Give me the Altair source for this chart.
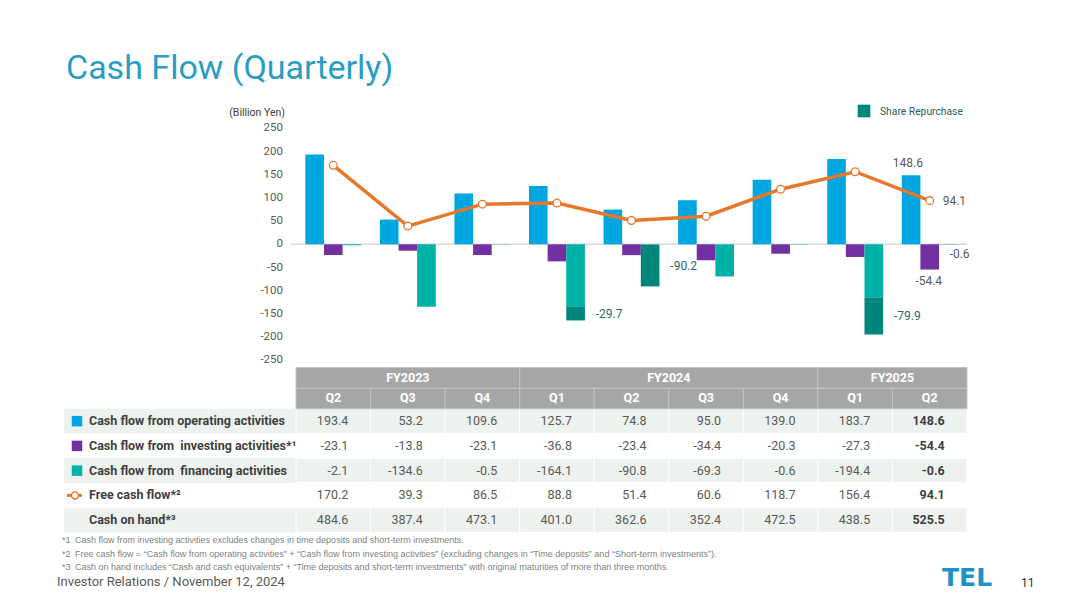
import altair as alt
import pandas as pd

# ---------------- data ----------------
quarters = ["FY2023 Q2", "FY2023 Q3", "FY2023 Q4", "FY2024 Q1", "FY2024 Q2",
            "FY2024 Q3", "FY2024 Q4", "FY2025 Q1", "FY2025 Q2"]
quarter_labels = ["Q2", "Q3", "Q4", "Q1", "Q2", "Q3", "Q4", "Q1", "Q2"]
fiscal_years = ["FY2023", "FY2024", "FY2025"]
quarters_per_fy = [3, 4, 2]
operating = [193.4, 53.2, 109.6, 125.7, 74.8, 95.0, 139.0, 183.7, 148.6]
investing = [-23.1, -13.8, -23.1, -36.8, -23.4, -34.4, -20.3, -27.3, -54.4]
financing = [-2.1, -134.6, -0.5, -164.1, -90.8, -69.3, -0.6, -194.4, -0.6]
share_repurchase = [0.0, 0.0, 0.0, -29.7, -90.2, 0.0, 0.0, -79.9, 0.0]
free_cash_flow = [170.2, 39.3, 86.5, 88.8, 51.4, 60.6, 118.7, 156.4, 94.1]
cash_on_hand = [484.6, 387.4, 473.1, 401.0, 362.6, 352.4, 472.5, 438.5, 525.5]
row_keys = ["op", "inv", "fin", "fcf", "cash"]
row_labels = ["Cash flow from operating activities",
              "Cash flow from\u00a0\u00a0investing activities*\u00b9",
              "Cash flow from\u00a0\u00a0financing activities",
              "Free cash flow*\u00b2",
              "Cash on hand*\u00b3"]
y_ticks = [250, 200, 150, 100, 50, 0, -50, -100, -150, -200, -250]
footnote_marks = ["*1", "*2", "*3"]
footnotes = [
    "Cash flow from investing activities excludes changes in time deposits and short-term investments.",
    "Free cash flow = \u201cCash flow from operating activities\u201d + \u201cCash flow from investing activities\u201d (excluding changes in \u201cTime deposits\u201d and \u201cShort-term investments\u201d).",
    "Cash on hand includes \u201cCash and cash equivalents\u201d + \u201cTime deposits and short-term investments\u201d with original maturities of more than three months.",
]

# ---------------- colours / layout ----------------
C_OP, C_INV, C_FIN, C_REP, C_FCF = "#00a6df", "#7330a2", "#00b1a8", "#00867b", "#e5782b"
FONT = "Roboto"
COL_RANGE = [288, 959]
Y_RANGE = [352.3, 120.3]
HEAD_RANGE = [359.5, 400.8]
ROW_RANGE = [400.8, 524.5]

x_scale = alt.Scale(domain=quarters, range=COL_RANGE, paddingInner=0, paddingOuter=0)
xo_scale = alt.Scale(domain=["op", "inv", "fin"], paddingInner=0, paddingOuter=0.5)
y_scale = alt.Scale(domain=[-250, 250], range=Y_RANGE, nice=False, zero=False)
head_scale = alt.Scale(domain=["fy", "q"], range=HEAD_RANGE, paddingInner=0, paddingOuter=0)
row_scale = alt.Scale(domain=row_keys, range=ROW_RANGE, paddingInner=0, paddingOuter=0)
fy_scale = alt.Scale(domain=[0, len(quarters)], range=COL_RANGE, nice=False, zero=False)
series_scale = alt.Scale(domain=["op", "inv", "fin", "rep"], range=[C_OP, C_INV, C_FIN, C_REP])
row_bg_scale = alt.Scale(domain=row_keys, range=["#eef2ef", "#ffffff", "#eef2ef", "#ffffff", "#eef2ef"])

X = alt.X("quarter:N", scale=x_scale, axis=None)
XO = alt.XOffset("slot:N", scale=xo_scale)
ROWY = alt.Y("row:N", scale=row_scale, axis=None)

# ---------------- tables ----------------
bars = []
for i, q in enumerate(quarters):
    bars.append(dict(quarter=q, slot="op", series="op", y0=0.0, y1=operating[i]))
    bars.append(dict(quarter=q, slot="inv", series="inv", y0=0.0, y1=investing[i]))
    light_end = financing[i] - share_repurchase[i]
    bars.append(dict(quarter=q, slot="fin", series="fin", y0=0.0, y1=light_end))
    if share_repurchase[i] != 0:
        bars.append(dict(quarter=q, slot="fin", series="rep", y0=light_end, y1=financing[i]))
bars_df = pd.DataFrame(bars)

fcf_df = pd.DataFrame({"quarter": quarters, "v": free_cash_flow})

rep_df = pd.DataFrame([
    dict(quarter=q, slot="fin", mid=financing[i] - share_repurchase[i] / 2,
         label=f"{share_repurchase[i]:.1f}")
    for i, q in enumerate(quarters) if share_repurchase[i] != 0
])
last = len(quarters) - 1
last_q = quarters[last]

series_values = [operating, investing, financing, free_cash_flow, cash_on_hand]
cells = []
for r, key in enumerate(row_keys):
    for i, q in enumerate(quarters):
        cells.append(dict(row=key, quarter=q, label=f"{series_values[r][i]:.1f}",
                          last=(i == last)))
cells_df = pd.DataFrame(cells)
rows_df = pd.DataFrame({"row": row_keys, "label": row_labels})

qhead_df = pd.DataFrame({"quarter": quarters, "label": quarter_labels, "h": "q"})
starts, ends, s = [], [], 0
for n in quarters_per_fy:
    starts.append(s)
    s += n
    ends.append(s)
fyhead_df = pd.DataFrame({"fy": fiscal_years, "start": starts, "end": ends, "h": "fy"})

ticks_df = pd.DataFrame({"v": y_ticks, "label": [str(t) for t in y_ticks]})
zero_df = pd.DataFrame({"v": [0]})


def note(text, x, y, **kw):
    return alt.Chart(pd.DataFrame({"t": [text]})).mark_text(**kw).encode(
        text="t:N", x=alt.value(x), y=alt.value(y))


layers = []

# ----- table background -----
layers.append(alt.Chart(rows_df).mark_rect().encode(
    x=alt.value(56), x2=alt.value(288), y=ROWY,
    color=alt.Color("row:N", scale=row_bg_scale, legend=None)))
layers.append(alt.Chart(cells_df).mark_rect(stroke="#ffffff", strokeWidth=1).encode(
    x=X, y=ROWY, color=alt.Color("row:N", scale=row_bg_scale, legend=None)))
layers.append(alt.Chart(qhead_df).mark_rect(color="#a6a6a6", stroke="#c2c2c2", strokeWidth=1).encode(
    x=X, y=alt.Y("h:N", scale=head_scale, axis=None)))
layers.append(alt.Chart(fyhead_df).mark_rect(color="#a6a6a6", stroke="#c2c2c2", strokeWidth=1).encode(
    x=alt.X("start:Q", scale=fy_scale, axis=None), x2="end:Q",
    y=alt.Y("h:N", scale=head_scale, axis=None)))
layers.append(alt.Chart(qhead_df).mark_text(font=FONT, fontSize=12.5, fontWeight="bold", color="#ffffff", baseline="middle").encode(
    x=X, y=alt.Y("h:N", scale=head_scale, axis=None), text="label:N"))
layers.append(alt.Chart(fyhead_df).transform_calculate(mid="(datum.start + datum.end) / 2").mark_text(
    font=FONT, fontSize=12.5, fontWeight="bold", color="#ffffff", baseline="middle").encode(
    x=alt.X("mid:Q", scale=fy_scale, axis=None), y=alt.Y("h:N", scale=head_scale, axis=None), text="fy:N"))

# ----- table text -----
layers.append(alt.Chart(cells_df).transform_filter("!datum.last").mark_text(
    font=FONT, fontSize=12.5, color="#595959", align="right", baseline="middle", dx=15).encode(
    x=X, y=ROWY, text="label:N"))
layers.append(alt.Chart(cells_df).transform_filter("datum.last").mark_text(
    font=FONT, fontSize=12.5, fontWeight="bold", color="#404040", align="right", baseline="middle", dx=15).encode(
    x=X, y=ROWY, text="label:N"))
layers.append(alt.Chart(rows_df).mark_text(
    font=FONT, fontSize=12.5, fontWeight="bold", color="#404040", align="left", baseline="middle").encode(
    x=alt.value(81), y=ROWY, text="label:N"))
layers.append(alt.Chart(rows_df).transform_filter("indexof(['op','inv','fin'], datum.row) >= 0").mark_square(
    size=110, opacity=1).encode(
    x=alt.value(69), y=ROWY, color=alt.Color("row:N", scale=alt.Scale(domain=["op", "inv", "fin"], range=[C_OP, C_INV, C_FIN]), legend=None)))
layers.append(alt.Chart(rows_df).transform_filter("datum.row == 'fcf'").mark_rule(color=C_FCF, strokeWidth=3).encode(
    x=alt.value(59), x2=alt.value(74), y=ROWY))
layers.append(alt.Chart(rows_df).transform_filter("datum.row == 'fcf'").mark_point(
    shape="circle", filled=True, fill="#ffffff", stroke=C_FCF, strokeWidth=1.4, size=50, opacity=1).encode(
    x=alt.value(67), y=ROWY))

# ----- chart -----
layers.append(alt.Chart(zero_df).mark_rule(color="#d9d9d9", strokeWidth=1.5).encode(
    y=alt.Y("v:Q", scale=y_scale, axis=None), x=alt.value(283), x2=alt.value(959)))
layers.append(alt.Chart(bars_df).mark_bar().encode(
    x=X, xOffset=XO,
    y=alt.Y("y0:Q", scale=y_scale, axis=None), y2="y1:Q",
    color=alt.Color("series:N", scale=series_scale, legend=None)))
layers.append(alt.Chart(fcf_df).mark_line(color=C_FCF, strokeWidth=3.5).encode(
    x=X, y=alt.Y("v:Q", scale=y_scale, axis=None)))
layers.append(alt.Chart(fcf_df).mark_point(
    shape="circle", filled=True, fill="#ffffff", stroke=C_FCF, strokeWidth=1.3, size=60, opacity=1).encode(
    x=X, y=alt.Y("v:Q", scale=y_scale, axis=None)))

# y tick labels
layers.append(alt.Chart(ticks_df).mark_text(
    font=FONT, fontSize=11.5, color="#595959", align="right", baseline="middle").encode(
    x=alt.value(275), y=alt.Y("v:Q", scale=y_scale, axis=None), text="label:N"))

# data labels
layers.append(alt.Chart(rep_df).mark_text(
    font=FONT, fontSize=12, color="#1f6b66", align="left", baseline="middle", dx=14).encode(
    x=X, xOffset=XO, y=alt.Y("mid:Q", scale=y_scale, axis=None), text="label:N"))
last_df = pd.DataFrame([dict(quarter=last_q, slot="op", v=operating[last], label=f"{operating[last]:.1f}")])
layers.append(alt.Chart(last_df).mark_text(
    font=FONT, fontSize=12, color="#595959", align="center", baseline="middle", dx=3, dy=-12).encode(
    x=X, xOffset=XO, y=alt.Y("v:Q", scale=y_scale, axis=None), text="label:N"))
last_df2 = pd.DataFrame([dict(quarter=last_q, slot="inv", v=investing[last], label=f"{investing[last]:.1f}")])
layers.append(alt.Chart(last_df2).mark_text(
    font=FONT, fontSize=12, color="#595959", align="center", baseline="middle", dx=-1, dy=11).encode(
    x=X, xOffset=XO, y=alt.Y("v:Q", scale=y_scale, axis=None), text="label:N"))
last_df3 = pd.DataFrame([dict(quarter=last_q, slot="fin", v=financing[last], label=f"{financing[last]:.1f}")])
layers.append(alt.Chart(last_df3).mark_text(
    font=FONT, fontSize=12, color="#595959", align="left", baseline="middle", dx=-5, dy=9).encode(
    x=X, xOffset=XO, y=alt.Y("v:Q", scale=y_scale, axis=None), text="label:N"))
last_df4 = pd.DataFrame([dict(quarter=last_q, v=free_cash_flow[last], label=f"{free_cash_flow[last]:.1f}")])
layers.append(alt.Chart(last_df4).mark_text(
    font=FONT, fontSize=12, color="#595959", align="left", baseline="middle", dx=13).encode(
    x=X, y=alt.Y("v:Q", scale=y_scale, axis=None), text="label:N"))

# unit and legend
layers.append(note("(Billion Yen)", 277, 105, font=FONT, fontSize=10.5, color="#404040", align="right", baseline="middle"))
layers.append(alt.Chart(pd.DataFrame({"s": ["Share Repurchase"]})).mark_square(size=160, color=C_REP, opacity=1).encode(
    x=alt.value(856), y=alt.value(103)))
layers.append(note("Share Repurchase", 872, 104, font=FONT, fontSize=10.3, color="#2b5d5a", align="left", baseline="middle"))

# title, footnotes, footer
layers.append(note("Cash Flow (Quarterly)", 58, 71, font=FONT, fontSize=34, color="#2a9dc2", align="left", baseline="alphabetic"))
for k, (m, t) in enumerate(zip(footnote_marks, footnotes)):
    layers.append(note(m, 54, 532 + 13.5 * k, font="Liberation Sans", fontSize=9, color="#7f7f7f", align="left", baseline="middle"))
    layers.append(note(t, 67, 532 + 13.5 * k, font="Liberation Sans", fontSize=9, color="#7f7f7f", align="left", baseline="middle"))
layers.append(note("Investor Relations / November 12, 2024", 49, 574, font=FONT, fontSize=13, color="#595959", align="left", baseline="middle"))
layers.append(note("TEL", 934, 570, font="DejaVu Sans", fontSize=25, fontWeight="bold", color="#1b93c9", align="left", baseline="middle"))
layers.append(note("11", 1013, 575, font=FONT, fontSize=12, color="#333333", align="left", baseline="middle"))

chart = alt.layer(*layers).resolve_scale(
    x="independent", y="independent", color="independent", xOffset="independent"
).properties(width=1040, height=587, autosize="none", padding=0).configure_view(stroke=None)

chart.save("out.html", embed_options={"renderer": "svg", "actions": False})
